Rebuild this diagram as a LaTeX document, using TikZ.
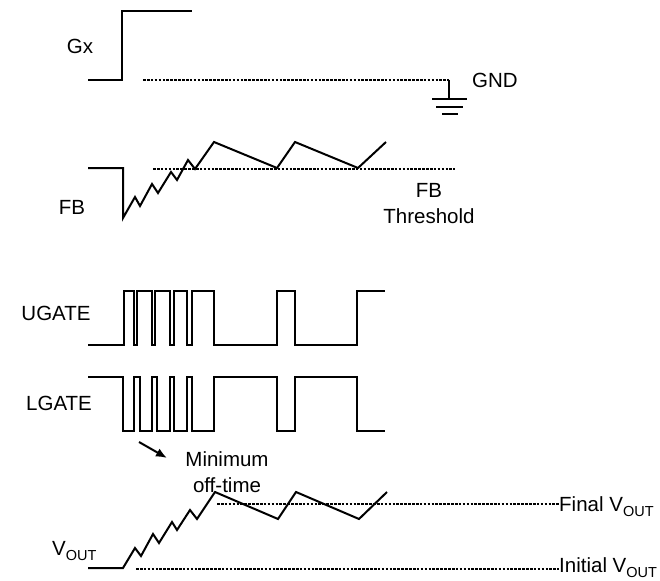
\documentclass[tikz,border=0pt]{standalone}
\usepackage{fontspec}
\setmainfont{Liberation Sans}
\usetikzlibrary{positioning, arrows.meta}
\newcommand{\vsub}[1]{\raisebox{-0.25em}{\fontsize{14.5}{15}\selectfont #1}}

\begin{document}
\begin{tikzpicture}
		[x=1pt, y=-1pt,
		wave/.style ={draw=black, line width=2pt, line join=miter},
		thr/.style ={draw=black, line width=2.3pt, dash pattern=on 2.6pt off 1.3pt},
		lbl/.style ={inner sep=0pt, font=\fontsize{20.5}{26}\selectfont, align=center}]
		\useasboundingbox (0,0) rectangle (660,580);

		% labels
		\draw (80,46) node[lbl] (gx) {Gx};
		\draw (495,80) node[lbl] (gnd) {GND};
		\draw (72,207) node[lbl] (fb) {FB};
		\draw (429,204) node[lbl] (fbthr) {FB\\Threshold};
		\draw (56,313) node[lbl] (ugate) {UGATE};
		\draw (59,403) node[lbl] (lgate) {LGATE};
		\draw (52,555) node[lbl, anchor=base west] (vout) {V\vsub{OUT}};
		\draw (227,472) node[lbl] (mot) {Minimum\\off-time};
		\draw (559,511) node[lbl, anchor=base west] (fin) {Final V\vsub{OUT}};
		\draw (559,572) node[lbl, anchor=base west] (ini) {Initial V\vsub{OUT}};

		% Gx and ground
		\draw[wave] (88,80) -- (122,80) -- (122,11) -- (192,11);
		\coordinate (gndS) at (143,80);
		\coordinate (gndE) at (449,80);
		\draw[thr] (gndS) -- (gndE);
		\draw[wave] (gndE) -- (449,99);
		\draw[wave] (432,99) -- (467,99);
		\draw[wave] (436,107) -- (463,107);
		\draw[wave] (442,114) -- (458,114);

		% FB
		\draw[wave] (88,168) -- (123,168) -- (123,218) -- (135,197) -- (140,206) -- (152,184) -- (158,193) -- (171,172) -- (177,180) -- (188,160) -- (195,169) -- (214,142) -- (277,168) -- (295,142) -- (358,168) -- (386,142);
		\draw[thr] (153,169) -- (455,169);

		% UGATE
		\draw[wave] (88,345) -- (124,345) -- (124,291) -- (134,291) -- (134,345) -- (137,345) -- (137,291) -- (152,291) -- (152,345) -- (155,345) -- (155,291) -- (170,291) -- (170,345) -- (174,345) -- (174,291) -- (187,291) -- (187,345) -- (192,345) -- (192,291) -- (214,291) -- (214,345) -- (277,345) -- (277,291) -- (295,291) -- (295,345) -- (357,345) -- (357,291) -- (385,291);

		% LGATE
		\draw[wave] (88,377) -- (123,377) -- (123,431) -- (134,431) -- (134,377) -- (140,377) -- (140,431) -- (152,431) -- (152,377) -- (157,377) -- (157,431) -- (170,431) -- (170,377) -- (174,377) -- (174,431) -- (187,431) -- (187,377) -- (192,377) -- (192,431) -- (214,431) -- (214,377) -- (277,377) -- (277,431) -- (295,431) -- (295,377) -- (357,377) -- (357,431) -- (385,431);

		% minimum off-time arrow
		\coordinate (arrS) at (139,442);
		\coordinate (arrE) at (167,458);
		\draw[wave, -{Latex[length=11pt,width=9pt]}] (arrS) -- (arrE);

		% VOUT
		\draw[wave] (88,568) -- (123,568) -- (135,548) -- (141,556) -- (153,534) -- (159,543) -- (172,522) -- (177,530) -- (190,510) -- (197,519) -- (215,492) -- (278,519) -- (296,492) -- (359,519) -- (387,492);
		\coordinate (finS) at (217,504);
		\coordinate (iniS) at (136,569);
		\draw[thr] (finS) -- (finS -| fin.west);
		\draw[thr] (iniS) -- (iniS -| ini.west);

	\end{tikzpicture}
\end{document}
